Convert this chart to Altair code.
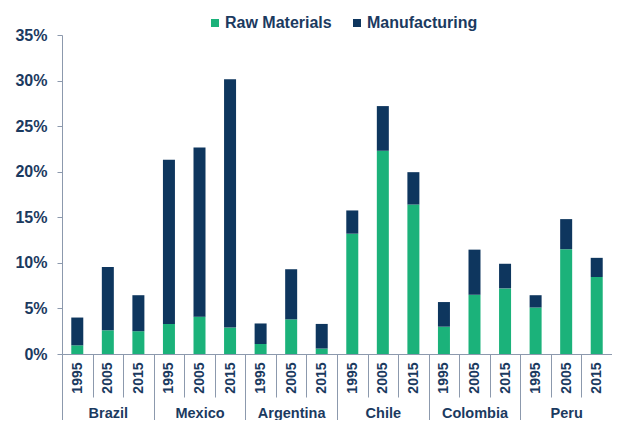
import altair as alt
import pandas as pd

countries = ["Brazil", "Mexico", "Argentina", "Chile", "Colombia", "Peru"]
years = ["1995", "2005", "2015"]
series = ["Raw Materials", "Manufacturing"]

raw_materials = [0.95, 2.6, 2.5, 3.3, 4.1, 2.9, 1.1, 3.8, 0.6,
                 13.2, 22.3, 16.4, 3.0, 6.5, 7.2, 5.1, 11.5, 8.45]
manufacturing = [3.05, 6.95, 3.95, 18.0, 18.55, 27.25, 2.25, 5.5, 2.7,
                 2.55, 4.9, 3.55, 2.7, 4.95, 2.7, 1.35, 3.3, 2.1]

y_ticks = [0, 5, 10, 15, 20, 25, 30, 35]

rows = []
keys = []
i = 0
for c in countries:
    for yv in years:
        key = c + "|" + yv
        keys.append(key)
        rows.append({"key": key, "country": c, "year": yv,
                     "series": series[0], "ord": 0, "value": raw_materials[i]})
        rows.append({"key": key, "country": c, "year": yv,
                     "series": series[1], "ord": 1, "value": manufacturing[i]})
        i += 1
df = pd.DataFrame(rows)
cdf = pd.DataFrame({"country": countries})

NAVY_TEXT = "#1B3A5F"
GRAY = "#8C99AD"
FONT = "Liberation Sans"

bars = alt.Chart(df).mark_bar(size=12).encode(
    x=alt.X("key:N", sort=keys, title=None,
            scale=alt.Scale(paddingInner=0, paddingOuter=0),
            axis=alt.Axis(orient="bottom", labelExpr="split(datum.value, '|')[1]",
                          labelAngle=-90, tickBand="extent", tickSize=43,
                          labelPadding=-35, tickColor=GRAY, domainColor=GRAY,
                          labelFont=FONT, labelFontSize=14, labelFontWeight="bold",
                          labelColor=NAVY_TEXT, grid=False, offset=0)),
    y=alt.Y("value:Q", stack="zero", title=None,
            scale=alt.Scale(domain=[0, 35], nice=False),
            axis=alt.Axis(values=y_ticks, labelExpr="datum.value + '%'",
                          tickSize=5, labelPadding=10, tickColor=GRAY,
                          domainColor=GRAY, labelFont=FONT, labelFontSize=16,
                          labelFontWeight="bold", labelColor=NAVY_TEXT, grid=False)),
    color=alt.Color("series:N",
                    scale=alt.Scale(domain=series, range=["#1BB27A", "#0E365E"]),
                    legend=alt.Legend(title=None, orient="none", direction="horizontal",
                                      legendX=145, legendY=-20, symbolType="square",
                                      symbolSize=64, symbolStrokeWidth=0,
                                      labelFont=FONT, labelFontSize=16,
                                      labelFontWeight="bold", labelColor=NAVY_TEXT,
                                      columnPadding=17, labelOffset=2)),
    order=alt.Order("ord:Q"),
)

country_axis = alt.Chart(cdf).mark_text(opacity=0).encode(
    x=alt.X("country:N", sort=countries, title=None,
            scale=alt.Scale(paddingInner=0, paddingOuter=0),
            axis=alt.Axis(orient="bottom", tickBand="extent", tickSize=66,
                          labelPadding=-14, tickColor=GRAY, domain=False,
                          labelAngle=0, labelFont=FONT, labelFontSize=14.5,
                          labelFontWeight="bold", labelColor=NAVY_TEXT,
                          labelBaseline="top", grid=False, offset=0)),
    text=alt.value(" "),
)

chart = alt.layer(bars, country_axis).resolve_scale(x="independent").properties(
    width=550, height=319,
    autosize=alt.AutoSizeParams(type="none"),
    padding={"left": 54, "top": 27, "right": 0, "bottom": 66},
).configure_view(stroke=None)

chart.save("out.html", embed_options={"renderer": "svg", "actions": False})
